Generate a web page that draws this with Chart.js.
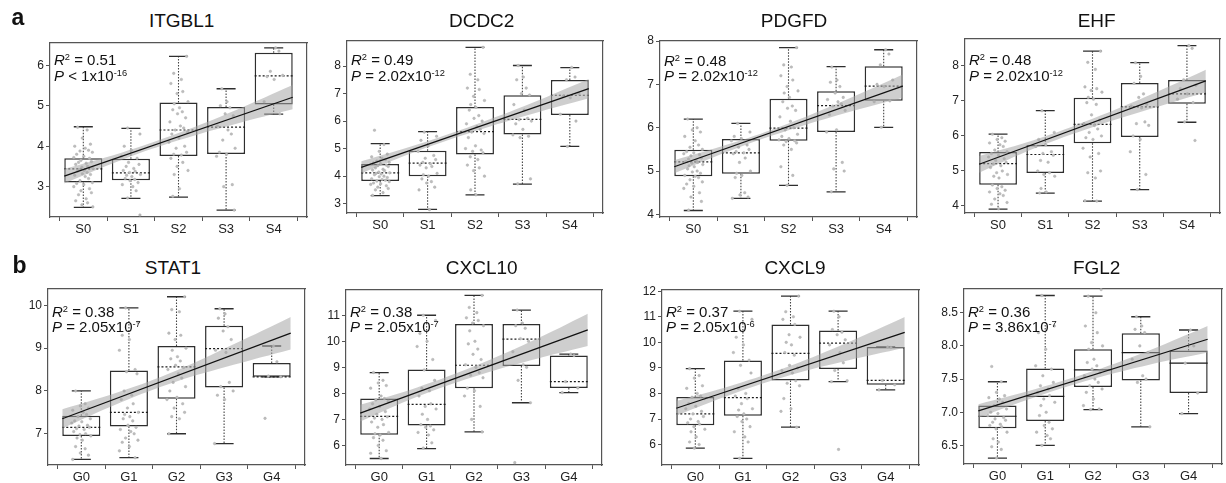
<!DOCTYPE html>
<html><head><meta charset="utf-8">
<script src="https://cdn.jsdelivr.net/npm/chart.js@4.4.0/dist/chart.umd.min.js"></script>
<style>
html,body{margin:0;padding:0;background:#fff;}
body{width:1226px;height:483px;overflow:hidden;position:relative;font-family:"Liberation Sans",Arial,Helvetica,sans-serif;}
canvas{position:absolute;}
.t{position:absolute;white-space:nowrap;color:#111;}
.t sup{font-size:0.62em;vertical-align:0;position:relative;top:-0.55em;line-height:0;}
</style></head>
<body>
<script>
// ---------------- DATA ----------------
const CATS_A = ['S0','S1','S2','S3','S4'];
const CATS_B = ['G0','G1','G2','G3','G4'];
const GENES = ['ITGBL1','DCDC2','PDGFD','EHF','STAT1','CXCL10','CXCL9','FGL2'];
const R2_TEXT = ['0.51','0.49','0.48','0.48','0.38','0.38','0.37','0.36'];
const P_REL = ['<','=','=','=','=','=','=','='];
const P_MANT = ['1x10','2.02x10','2.02x10','2.02x10','2.05x10','2.05x10','2.05x10','3.86x10'];
const P_EXP = ['-16','-12','-12','-12','-7','-7','-6','-7'];

const TICKS_ITGBL1 = [3,4,5,6];
const TICKS_DCDC2 = [3,4,5,6,7,8];
const TICKS_PDGFD = [4,5,6,7,8];
const TICKS_EHF = [4,5,6,7,8];
const TICKS_STAT1 = [7,8,9,10];
const TICKS_CXCL10 = [6,7,8,9,10,11];
const TICKS_CXCL9 = [6,7,8,9,10,11,12];
const TICKS_FGL2 = [6.5,7.0,7.5,8.0,8.5];

// box stats per group: [min, q1, median, q3, max]
const ITGBL1_BOX = [[2.49,3.10,3.44,3.70,4.48],[2.71,3.16,3.34,3.69,4.44],[2.74,3.76,4.40,5.08,6.22],[2.42,3.81,4.47,4.97,5.42],[4.79,5.03,5.74,6.31,6.43]];
const DCDC2_BOX = [[3.29,3.82,4.12,4.44,5.18],[2.79,4.00,4.47,4.92,5.62],[3.32,4.79,5.62,6.51,8.68],[3.71,5.51,6.06,6.94,8.02],[5.08,6.22,6.94,7.49,7.94]];
const PDGFD_BOX = [[4.09,4.88,5.21,5.49,6.20],[4.37,4.94,5.42,5.74,6.10],[4.67,5.70,5.99,6.67,7.85],[4.52,5.90,6.51,6.84,7.41],[6.01,6.62,6.96,7.42,7.80]];
const EHF_BOX = [[3.91,4.61,5.21,5.54,6.05],[4.37,4.94,5.47,5.74,6.72],[4.14,5.79,6.33,7.09,8.42],[4.47,5.97,6.83,7.51,8.09],[6.39,6.92,7.20,7.60,8.58]];
const STAT1_BOX = [[6.40,6.95,7.15,7.42,8.00],[6.44,7.17,7.50,8.48,9.94],[7.00,7.82,8.56,9.05,10.20],[6.77,8.08,8.99,9.52,9.92],[8.33,8.33,8.33,8.65,9.05]];
const CXCL10_BOX = [[5.50,6.41,7.12,7.80,8.80],[5.88,6.77,7.58,8.92,11.00],[6.52,8.20,9.08,10.66,11.76],[7.64,9.05,10.08,10.66,11.20],[8.03,8.21,8.45,9.45,9.51]];
const CXCL9_BOX = [[5.86,6.76,7.20,7.86,8.97],[5.46,7.13,7.84,9.29,11.22],[6.68,8.51,9.57,10.70,11.81],[8.46,8.96,9.97,10.46,11.22],[8.14,8.34,8.51,9.82,9.82]];
const FGL2_BOX = [[6.31,6.76,6.94,7.10,7.46],[6.50,6.87,7.24,7.66,8.76],[7.04,7.38,7.64,7.95,8.75],[6.78,7.48,7.90,8.19,8.44],[6.98,7.29,7.74,7.93,8.24]];

// sample values per group
const ITGBL1_PTS = [
 [4.47,4.4,4.2,4.05,4.0,3.95,3.9,3.88,3.85,3.8,3.75,3.72,3.7,3.65,3.62,3.6,3.58,3.55,3.5,3.48,3.45,3.42,3.4,3.38,3.35,3.32,3.3,3.28,3.25,3.2,3.15,3.1,3.08,3.05,3.0,2.95,2.9,2.85,2.8,2.7,2.65,2.6,2.55,2.5],
 [4.45,4.3,4.0,3.9,3.75,3.7,3.6,3.55,3.5,3.45,3.4,3.38,3.35,3.3,3.28,3.25,3.2,3.18,3.15,3.1,3.05,3.0,2.9,2.72,2.3],
 [6.22,5.8,5.65,5.55,5.35,5.3,5.1,5.05,4.95,4.9,4.85,4.8,4.7,4.6,4.5,4.45,4.4,4.35,4.3,4.2,4.1,4.0,3.95,3.85,3.8,3.78,3.7,3.6,3.5,3.4,3.3,2.95,2.76],
 [5.42,5.1,5.0,4.95,4.8,4.75,4.5,4.4,4.3,4.15,3.95,3.85,3.8,3.75,3.05,3.0,2.42],
 [6.43,6.35,5.85,5.75,5.72,5.65,5.1,4.8]];
const DCDC2_PTS = [
 [5.67,5.15,4.9,4.8,4.7,4.65,4.6,4.55,4.5,4.48,4.45,4.42,4.4,4.38,4.35,4.3,4.25,4.22,4.2,4.15,4.12,4.1,4.08,4.05,4.0,3.98,3.95,3.9,3.88,3.85,3.82,3.8,3.75,3.72,3.7,3.65,3.6,3.55,3.5,3.4,3.3],
 [5.6,5.45,5.3,5.1,4.9,4.75,4.65,4.6,4.5,4.45,4.4,4.35,4.3,4.1,4.05,4.0,3.9,3.8,3.75,3.6,3.5,2.78],
 [8.68,7.7,7.5,7.2,7.15,6.9,6.75,6.6,6.5,6.4,6.2,6.1,6.0,5.9,5.8,5.7,5.6,5.55,5.4,5.1,5.0,4.95,4.9,4.85,4.7,4.6,4.4,4.3,4.2,4.0,3.5,3.32],
 [8.02,7.6,7.5,7.2,7.0,6.95,6.6,6.4,6.1,6.05,6.0,5.9,5.7,5.5,5.45,5.4,3.9,3.72],
 [7.95,7.6,7.5,7.0,6.9,6.85,6.25,6.0,5.08]];
const PDGFD_PTS = [
 [6.2,6.0,5.95,5.9,5.8,5.7,5.6,5.55,5.5,5.45,5.42,5.4,5.38,5.35,5.3,5.28,5.25,5.22,5.2,5.18,5.15,5.12,5.1,5.05,5.0,4.98,4.95,4.9,4.88,4.85,4.8,4.75,4.7,4.65,4.6,4.5,4.4,4.3,4.1],
 [6.1,5.9,5.8,5.75,5.7,5.6,5.55,5.5,5.45,5.42,5.4,5.3,5.2,5.0,4.95,4.9,4.85,4.5,4.45,4.4,4.37],
 [7.85,7.45,7.4,7.2,7.1,6.95,6.85,6.8,6.7,6.6,6.5,6.45,6.4,6.25,6.15,6.0,5.95,5.85,5.8,5.75,5.72,5.7,5.68,5.65,5.6,5.5,5.1,4.9,4.67],
 [7.4,7.1,7.05,6.95,6.8,6.7,6.65,6.6,6.55,6.5,6.4,6.3,5.95,5.9,5.2,5.05,5.0,4.52],
 [7.8,7.7,7.45,7.1,7.0,6.95,6.6,6.62,6.01]];
const EHF_PTS = [
 [6.05,5.95,5.9,5.85,5.8,5.75,5.7,5.6,5.55,5.5,5.45,5.4,5.35,5.3,5.25,5.2,5.15,5.1,5.0,4.95,4.9,4.85,4.8,4.6,4.55,4.5,4.45,4.4,4.35,4.3,4.2,4.1,4.05,3.92],
 [6.72,6.1,5.9,5.75,5.7,5.55,5.5,5.45,5.3,5.25,5.0,4.95,4.9,4.85,4.5,4.4,4.37],
 [8.42,8.1,7.9,7.4,7.35,7.3,7.25,7.1,7.05,6.95,6.9,6.6,6.45,6.35,6.3,6.2,6.1,6.0,5.95,5.9,5.65,5.5,5.4,5.0,4.95,4.8,4.15,4.14],
 [8.09,7.7,7.5,7.2,7.1,6.9,6.85,6.8,6.4,6.35,6.3,6.0,5.9,5.55,4.9,4.47],
 [8.58,8.5,7.6,7.45,7.35,7.2,7.05,6.95,6.4,5.87]];
const STAT1_PTS = [
 [8.0,7.7,7.65,7.6,7.55,7.5,7.45,7.4,7.35,7.3,7.28,7.25,7.2,7.18,7.15,7.12,7.1,7.05,7.0,6.98,6.95,6.9,6.85,6.7,6.65,6.55,6.5,6.4],
 [9.94,9.6,9.3,9.2,8.95,8.5,8.45,8.4,8.0,7.9,7.8,7.7,7.6,7.5,7.45,7.4,7.35,7.3,7.2,7.15,7.1,7.05,7.0,6.9,6.85,6.8,6.7,6.6,6.44],
 [10.2,9.9,9.85,9.35,9.3,9.2,9.0,8.95,8.8,8.75,8.7,8.6,8.55,8.5,8.4,8.3,8.2,8.1,8.0,7.85,7.8,7.7,7.6,7.5,7.4,7.35,7.0],
 [9.92,9.8,9.7,9.5,9.4,9.2,8.95,8.9,8.2,8.1,8.0,7.9,7.8,6.77],
 [9.05,8.68,8.35,8.33,7.36]];
const CXCL10_PTS = [
 [8.8,8.5,8.4,8.3,8.2,7.9,7.8,7.75,7.7,7.6,7.5,7.4,7.3,7.2,7.1,7.05,7.0,6.9,6.8,6.7,6.5,6.45,6.4,6.3,6.2,6.0,5.8,5.7,5.5],
 [11.0,10.8,10.3,10.0,9.8,9.3,8.9,8.5,8.2,8.1,7.9,7.6,7.5,7.4,7.2,7.0,6.8,6.75,6.7,6.6,6.5,6.4,6.1,5.9],
 [11.76,11.3,11.1,10.9,10.8,10.7,10.6,10.4,10.0,9.9,9.7,9.5,9.3,9.1,9.0,8.8,8.7,8.6,8.2,8.1,7.9,7.5,7.0,6.52],
 [11.2,10.7,10.6,10.5,10.1,10.0,9.6,9.1,9.0,8.5,7.64,5.34],
 [9.51,9.45,8.45,8.21,8.03]];
const CXCL9_PTS = [
 [8.97,8.7,8.6,8.3,8.2,8.0,7.9,7.85,7.8,7.6,7.5,7.4,7.3,7.2,7.1,7.0,6.9,6.85,6.8,6.7,6.6,6.5,6.3,6.1,6.0,5.86],
 [11.22,10.9,10.2,9.9,9.6,9.3,9.1,8.8,8.2,8.0,7.9,7.8,7.6,7.4,7.35,7.2,7.1,7.0,6.9,6.7,6.5,6.3,6.1,5.46],
 [11.81,11.2,11.0,10.9,10.7,10.3,10.2,10.0,9.9,9.6,9.5,9.1,9.0,8.9,8.8,8.5,8.4,8.3,7.8,7.4,7.3,6.68],
 [11.22,11.0,10.5,10.4,10.3,10.1,9.9,9.6,9.2,8.9,8.5,8.46,5.81],
 [9.82,9.8,8.51,8.34,8.14]];
const FGL2_PTS = [
 [7.69,7.46,7.3,7.25,7.22,7.2,7.15,7.1,7.05,7.0,6.98,6.95,6.92,6.9,6.88,6.85,6.82,6.8,6.78,6.75,6.7,6.6,6.55,6.48,6.44,6.31],
 [8.76,8.3,8.2,7.95,7.7,7.65,7.55,7.45,7.4,7.35,7.3,7.25,7.2,7.15,7.1,7.0,6.95,6.85,6.8,6.75,6.7,6.65,6.6,6.5],
 [8.85,8.75,8.5,8.3,8.2,8.05,8.0,7.95,7.8,7.75,7.7,7.65,7.6,7.55,7.5,7.45,7.4,7.35,7.3,7.2,7.1,7.05,7.04],
 [8.44,8.3,8.25,8.2,8.0,7.9,7.8,7.55,7.5,7.45,6.78],
 [8.24,8.0,7.74,7.29,6.98]];

// regression line (value at start / end x) and its confidence band
const REG_X = [0.6, 5.4];
const BAND_X = [0.6, 1.8, 3.0, 4.2, 5.4];
const ITGBL1_REG = [3.26, 5.21];
const ITGBL1_UP = [3.44, 3.84, 4.325, 4.89, 5.51];
const ITGBL1_LO = [3.08, 3.66, 4.145, 4.55, 4.91];
const DCDC2_REG = [4.32, 7.18];
const DCDC2_UP = [4.54, 5.16, 5.87, 6.66, 7.53];
const DCDC2_LO = [4.10, 4.92, 5.63, 6.26, 6.83];
const PDGFD_REG = [5.10, 6.96];
const PDGFD_UP = [5.25, 5.64, 6.10, 6.64, 7.23];
const PDGFD_LO = [4.95, 5.48, 5.94, 6.34, 6.69];
const EHF_REG = [5.19, 7.57];
const EHF_UP = [5.43, 5.90, 6.49, 7.16, 7.89];
const EHF_LO = [4.95, 5.66, 6.25, 6.76, 7.25];
const STAT1_REG = [7.35, 9.35];
const STAT1_UP = [7.57, 7.98, 8.48, 9.09, 9.73];
const STAT1_LO = [7.13, 7.72, 8.22, 8.61, 8.97];
const CXCL10_REG = [7.24, 10.44];
const CXCL10_UP = [7.56, 8.23, 9.04, 9.99, 11.06];
const CXCL10_LO = [6.92, 7.87, 8.64, 9.27, 9.82];
const CXCL9_REG = [7.42, 10.39];
const CXCL9_UP = [7.70, 8.33, 9.08, 9.99, 10.99];
const CXCL9_LO = [7.14, 7.99, 8.72, 9.29, 9.79];
const FGL2_REG = [7.02, 8.10];
const FGL2_UP = [7.12, 7.35, 7.62, 7.94, 8.30];
const FGL2_LO = [6.92, 7.23, 7.50, 7.72, 7.90];

// ---------------- LAYOUT / STYLE ----------------
const JITTER = [-0.12,0.08,-0.02,0.15,-0.18,0.04,0.11,-0.07,0.19,-0.14,0.01,-0.2,0.13,-0.05,0.17,-0.1,0.06,-0.16,0.09,-0.03,0.2,-0.09,0.02];
const BOX_HALF = 0.4, CAP_HALF = 0.2;
const FONT = '"Liberation Sans", Arial, Helvetica, sans-serif';
Chart.defaults.font.family = FONT;

const PANELS = [
 {cats:CATS_A, box:ITGBL1_BOX, pts:ITGBL1_PTS, reg:ITGBL1_REG, up:ITGBL1_UP, lo:ITGBL1_LO, ticks:TICKS_ITGBL1, L:50, T:37, R:307, B:217, ymin:2.25, ymax:6.57, tx:181.7, ty:26.7, sy:65, dec:0, medDash:[2,2]},
 {cats:CATS_A, box:DCDC2_BOX, pts:DCDC2_PTS, reg:DCDC2_REG, up:DCDC2_UP, lo:DCDC2_LO, ticks:TICKS_DCDC2, L:347, T:35, R:603, B:213, ymin:2.66, ymax:8.94, tx:481.7, ty:26.7, sy:65, dec:0, medDash:[2,2]},
 {cats:CATS_A, box:PDGFD_BOX, pts:PDGFD_PTS, reg:PDGFD_REG, up:PDGFD_UP, lo:PDGFD_LO, ticks:TICKS_PDGFD, L:660, T:35, R:917, B:217, ymin:3.94, ymax:8.02, tx:794, ty:26.7, sy:65.5, dec:0, medDash:[2,2]},
 {cats:CATS_A, box:EHF_BOX, pts:EHF_PTS, reg:EHF_REG, up:EHF_UP, lo:EHF_LO, ticks:TICKS_EHF, L:965, T:33, R:1220, B:213, ymin:3.80, ymax:8.79, tx:1096.7, ty:26.7, sy:65, dec:0, medDash:[2,2]},
 {cats:CATS_B, box:STAT1_BOX, pts:STAT1_PTS, reg:STAT1_REG, up:STAT1_UP, lo:STAT1_LO, ticks:TICKS_STAT1, L:48, T:283, R:305, B:465, ymin:6.27, ymax:10.4, tx:173, ty:273.7, sy:316.5, dec:0, medDash:[2,2]},
 {cats:CATS_B, box:CXCL10_BOX, pts:CXCL10_PTS, reg:CXCL10_REG, up:CXCL10_UP, lo:CXCL10_LO, ticks:TICKS_CXCL10, L:346, T:284, R:602, B:465, ymin:5.25, ymax:12.0, tx:481.7, ty:273.7, sy:316.5, dec:0, medDash:[2,2]},
 {cats:CATS_B, box:CXCL9_BOX, pts:CXCL9_PTS, reg:CXCL9_REG, up:CXCL9_UP, lo:CXCL9_LO, ticks:TICKS_CXCL9, L:662, T:284, R:919, B:465, ymin:5.2, ymax:12.08, tx:795, ty:273.7, sy:316.5, dec:0, medDash:[2,2]},
 {cats:CATS_B, box:FGL2_BOX, pts:FGL2_PTS, reg:FGL2_REG, up:FGL2_UP, lo:FGL2_LO, ticks:TICKS_FGL2, L:964, T:283, R:1222, B:464, ymin:6.22, ymax:8.87, tx:1096.7, ty:273.7, sy:316.5, dec:1, medDash:[]}
];
const LETTERS = [{t:'a', x:11.5, y:25}, {t:'b', x:12.5, y:273.3}];

function addText(html, left, baseline, fs, opts) {
  const d = document.createElement('div');
  d.className = 't';
  d.style.fontSize = fs + 'px';
  d.style.lineHeight = fs + 'px';
  d.style.left = left + 'px';
  d.style.top = (baseline - 0.8465 * fs) + 'px';
  if (opts && opts.center) d.style.transform = 'translateX(-50%)';
  if (opts && opts.bold) d.style.fontWeight = 'bold';
  d.innerHTML = html;
  document.body.appendChild(d);
}

const AXW = 45, AXH = 30, PT = 4, PR = 6;
const AX_COLOR = '#555';

PANELS.forEach((p, idx) => {
  const W = p.R - p.L, H = p.B - p.T;
  const cv = document.createElement('canvas');
  const cw = W + AXW + PR, ch = H + PT + AXH;
  cv.width = cw; cv.height = ch;
  cv.style.left = (p.L - AXW) + 'px';
  cv.style.top = (p.T - PT) + 'px';
  cv.style.width = cw + 'px'; cv.style.height = ch + 'px';
  document.body.appendChild(cv);

  const boxData = p.box.map((b, i) => ({x: i + 1, y: [b[1], b[3]]}));
  const whisk = [], caps = [], meds = [];
  p.box.forEach((b, i) => {
    const g = i + 1;
    whisk.push({x:g, y:b[3]}, {x:g, y:b[4]}, {x:g, y:null}, {x:g, y:b[1]}, {x:g, y:b[0]}, {x:g, y:null});
    caps.push({x:g-CAP_HALF, y:b[4]}, {x:g+CAP_HALF, y:b[4]}, {x:g, y:null}, {x:g-CAP_HALF, y:b[0]}, {x:g+CAP_HALF, y:b[0]}, {x:g, y:null});
    meds.push({x:g-BOX_HALF, y:b[2]}, {x:g+BOX_HALF, y:b[2]}, {x:g, y:null});
  });
  const pts = [];
  p.pts.forEach((grp, gi) => grp.forEach((v, k) => pts.push({x: gi + 1 + JITTER[(k + gi * 7) % JITTER.length], y: v})));

  const lineBase = {type:'line', pointRadius:0, fill:false, spanGaps:false, xAxisID:'x', yAxisID:'y'};
  const datasets = [
    {type:'bar', data: boxData, backgroundColor:'#ffffff', borderColor:'#2e2e2e', borderWidth:1.5, borderSkipped:false,
     categoryPercentage:1, barPercentage:2*BOX_HALF, grouped:false, order:10, xAxisID:'x', yAxisID:'y'},
    Object.assign({}, lineBase, {data: whisk, borderColor:'#444', borderWidth:1.1, borderDash:[1.5,1.5], order:9}),
    Object.assign({}, lineBase, {data: caps, borderColor:'#2e2e2e', borderWidth:1.3, order:8}),
    Object.assign({}, lineBase, {data: meds, borderColor:'#1a1a1a', borderWidth:1.2, borderDash:p.medDash, order:7}),
    Object.assign({}, lineBase, {data: pts, showLine:false, pointRadius:1.3, pointBackgroundColor:'#bdbdbd', pointBorderColor:'#aaaaaa', pointBorderWidth:0.4, order:6}),
    Object.assign({}, lineBase, {data: BAND_X.map((x, i) => ({x, y: p.up[i]})), fill:'+1', backgroundColor:'rgba(165,165,165,0.55)', borderWidth:0, borderColor:'rgba(0,0,0,0)', tension:0.4, order:5}),
    Object.assign({}, lineBase, {data: BAND_X.map((x, i) => ({x, y: p.lo[i]})), borderWidth:0, borderColor:'rgba(0,0,0,0)', tension:0.4, order:4}),
    Object.assign({}, lineBase, {data: REG_X.map((x, i) => ({x, y: p.reg[i]})), borderColor:'#111', borderWidth:1.2, order:1})
  ];

  new Chart(cv, {
    type: 'line',
    data: {datasets},
    options: {
      responsive:false, animation:false, devicePixelRatio:1, events:[],
      layout:{padding:{top:PT, right:PR, left:0, bottom:0}},
      plugins:{legend:{display:false}, tooltip:{enabled:false}, title:{display:false}},
      scales:{
        x:{type:'linear', position:'bottom', min:0.3, max:5.7, offset:false,
           afterBuildTicks: s => { s.ticks = p.cats.map((c, i) => ({value: i + 1})); },
           afterFit: s => { s.height = AXH; },
           ticks:{callback: v => p.cats[Math.round(v) - 1], font:{size:13, family:FONT}, color:'#222', padding:1, maxRotation:0, autoSkip:false},
           grid:{display:true, drawOnChartArea:false, drawTicks:true, tickLength:4, color:AX_COLOR},
           border:{display:true, color:AX_COLOR, width:1.2}},
        y:{type:'linear', position:'left', min:p.ymin, max:p.ymax,
           afterBuildTicks: s => { s.ticks = p.ticks.map(v => ({value: v})); },
           afterFit: s => { s.width = AXW; },
           ticks:{callback: v => Number(v).toFixed(p.dec), font:{size:12, family:FONT}, color:'#222', padding:2, autoSkip:false},
           grid:{display:true, drawOnChartArea:false, drawTicks:true, tickLength:4, color:AX_COLOR},
           border:{display:true, color:AX_COLOR, width:1.2}},
        x2:{type:'linear', position:'top', min:0.3, max:5.7, afterFit: s => { s.height = 0; },
            ticks:{display:false}, grid:{display:false, drawTicks:false}, border:{display:true, color:AX_COLOR, width:1.2}},
        y2:{type:'linear', position:'right', min:p.ymin, max:p.ymax, afterFit: s => { s.width = 0; },
            ticks:{display:false}, grid:{display:false, drawTicks:false}, border:{display:true, color:AX_COLOR, width:1.2}}
      }
    }
  });

  addText(GENES[idx], p.tx, p.ty, 19, {center:true});
  addText('<i>R</i><sup>2</sup> = ' + R2_TEXT[idx], p.L + 4, p.sy, 15);
  addText('<i>P</i> ' + P_REL[idx] + ' ' + P_MANT[idx] + '<sup>' + P_EXP[idx] + '</sup>', p.L + 4, p.sy + 15.5, 15);
});

LETTERS.forEach(l => addText(l.t, l.x, l.y, 23, {bold:true}));
</script>
</body></html>
